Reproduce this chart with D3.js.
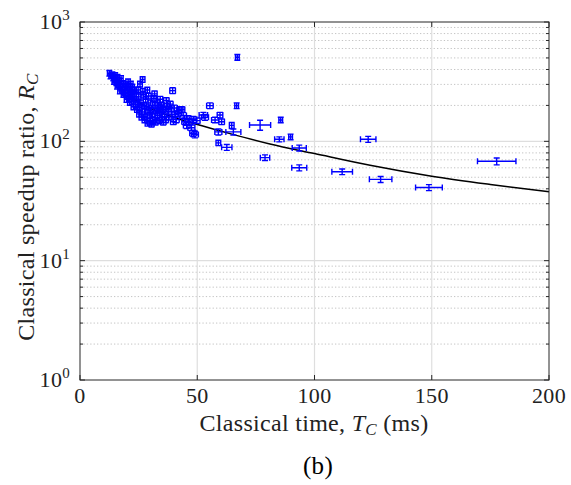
<!DOCTYPE html>
<html>
<head>
<meta charset="utf-8">
<script src="https://cdn.jsdelivr.net/npm/d3@7"></script>
<style>
  body { margin: 0; background: #fff; }
  text { font-family: "Liberation Serif", "DejaVu Serif", serif; fill: #222; letter-spacing: 0.3px; }
</style>
</head>
<body>
<svg id="chart" width="571" height="485"></svg>
<script>
// measured classical time (ms) and speedup ratio, with error bars
const tc = [12.5, 13.0, 13.8, 14.2, 14.8, 15.0, 15.5, 16.0, 16.3, 16.8,
  17.2, 17.5, 18.0, 18.3, 18.8, 19.2, 19.5, 20.0, 20.3, 20.8,
  21.0, 21.5, 21.7, 22.0, 22.5, 23.0, 23.3, 23.8, 24.0, 24.5,
  25.0, 25.5, 25.6, 26.0, 26.7, 26.5, 27.0, 27.3, 27.8, 28.0,
  28.4, 28.7, 29.0, 29.5, 29.9, 30.0, 30.5, 31.0, 31.0, 31.5,
  32.0, 32.5, 33.0, 33.0, 33.5, 34.0, 34.5, 35.0, 35.5, 36.0,
  36.5, 37.0, 37.7, 38.0, 39.0, 39.5, 39.8, 40.5, 41.0, 42.6,
  43.4, 34.8, 44.8, 45.5, 46.0, 48.3, 48.3, 49.0, 49.7, 52.6,
  53.3, 55.4, 57.6, 59.0, 59.0, 59.7, 60.4, 62.6, 64.7, 65.4,
  66.8, 67.1, 76.8, 78.9, 85.0, 85.6, 89.8, 93.5, 93.5, 111.8,
  122.9, 128.2, 148.8, 177.7,
  14.5, 15.8, 17.0, 18.5, 19.8, 21.2, 22.8, 24.3, 25.2, 26.2,
  27.5, 28.8, 30.5, 32.2, 33.8, 35.5, 20.5, 22.3, 24.8, 26.8,
  29.3, 31.8, 34.2, 36.8, 38.5, 40.2, 42.0, 44.0, 46.5, 47.5];
const rc = [372, 352, 362, 340, 328, 356, 310, 345, 298, 322,
  288, 336, 268, 305, 284, 255, 298, 240, 270, 290,
  230, 255, 302, 216, 246, 268, 226, 202, 250, 215,
  236, 192, 302, 210, 330, 176, 245, 200, 160, 225,
  195, 269, 180, 166, 146, 210, 190, 170, 150, 228,
  200, 180, 165, 210, 190, 175, 200, 160, 185, 170,
  152, 195, 188, 160, 177, 266, 146, 168, 152, 185,
  185, 202, 146, 136, 155, 153, 117, 114, 149, 166,
  159, 199, 151, 120, 97, 166, 146, 89, 136, 120,
  199, 506, 137, 73, 104, 151, 109, 88, 60, 55.6,
  104, 48, 41, 68,
  318, 290, 265, 248, 225, 212, 195, 185, 170, 160,
  152, 142, 140, 145, 150, 145, 315, 285, 270, 262,
  240, 250, 225, 220, 205, 190, 172, 165, 145, 130];
const tcErr = [0.8, 0.7, 0.8, 0.7, 0.8, 0.8, 0.8, 0.8, 0.8, 0.8,
  0.8, 0.9, 0.9, 0.9, 0.9, 0.9, 0.9, 0.9, 0.9, 0.9,
  0.9, 0.9, 0.9, 0.9, 0.9, 1.0, 1.0, 1.0, 1.0, 1.0,
  1.0, 1.0, 1.0, 1.0, 1.0, 1.0, 1.0, 1.0, 1.0, 1.0,
  1.0, 1.0, 1.0, 1.0, 1.4, 1.0, 1.0, 1.1, 1.1, 1.1,
  1.1, 1.1, 1.1, 1.1, 1.1, 1.1, 1.1, 1.1, 1.2, 1.2,
  1.2, 1.2, 1.2, 1.2, 1.2, 1.2, 1.2, 1.3, 1.3, 1.3,
  1.3, 1.1, 1.4, 1.4, 1.4, 1.5, 1.5, 1.5, 1.5, 1.8,
  1.5, 1.4, 1.5, 1.5, 1.0, 1.2, 1.2, 2.2, 1.0, 3.2,
  0.8, 0.8, 4.5, 2.0, 2.0, 0.8, 0.8, 3.0, 3.2, 4.4,
  3.3, 4.8, 5.7, 8.2,
  0.8, 0.8, 0.9, 0.9, 0.9, 0.9, 1.0, 1.0, 1.0, 1.0,
  1.0, 1.0, 1.1, 1.1, 1.1, 1.2, 0.9, 0.9, 1.0, 1.0,
  1.0, 1.1, 1.1, 1.2, 1.2, 1.3, 1.3, 1.4, 1.4, 1.5];
const rcErr = [20, 18, 20, 18, 18, 20, 17, 19, 16, 18,
  16, 19, 15, 17, 16, 14, 17, 13, 15, 16,
  13, 14, 17, 12, 14, 15, 12, 11, 14, 12,
  13, 11, 17, 12, 18, 10, 14, 11, 9, 12,
  11, 15, 10, 9, 9, 12, 11, 10, 9, 13,
  11, 10, 9, 12, 11, 10, 11, 9, 10, 10,
  9, 11, 10, 9, 10, 15, 8, 9, 9, 10,
  10, 11, 8, 8, 9, 9, 7, 7, 8, 9,
  9, 11, 8, 7, 5, 9, 8, 5, 8, 7,
  11, 28, 13, 4, 5, 8, 6, 5, 3.5, 3,
  6, 2.8, 2.4, 4.5,
  18, 16, 15, 14, 13, 12, 11, 10, 10, 9,
  9, 8, 8, 8, 9, 8, 18, 16, 15, 15,
  13, 14, 13, 12, 12, 11, 10, 9, 8, 7];

// fitted trend line
const fitT = [12.5, 18.5, 24.2, 31.3, 38.4, 49.7, 64, 81, 100, 123.7, 150, 175, 200];
const fitR = [366, 272, 218, 185, 163, 139, 116, 95, 79, 63, 51, 43.5, 37.8];

const xTicks = [0, 50, 100, 150, 200];
const yDecades = [1, 10, 100, 1000];
const yExps = ["0", "1", "2", "3"];

const mLeft = 80, mRight = 549, mTop = 22, mBottom = 380;
const svg = d3.select("#chart");

const x = d3.scaleLinear().domain([0, 200]).range([mLeft, mRight]);
const y = d3.scaleLog().domain([1, 1000]).range([mBottom, mTop]);

// minor log values 2..9 in each decade
let minor = [];
for (let d of [1, 10, 100]) {
    for (let k = 2; k <= 9; k++) minor.push(d * k);
}

const grid = svg.append("g");
grid.selectAll(".minor").data(minor).enter().append("line")
    .attr("x1", mLeft).attr("x2", mRight)
    .attr("y1", d => y(d)).attr("y2", d => y(d))
    .attr("stroke", "#c4c4c4").attr("stroke-width", 1)
    .attr("stroke-dasharray", "1.3,2.1");
grid.selectAll(".majy").data([10, 100]).enter().append("line")
    .attr("x1", mLeft).attr("x2", mRight)
    .attr("y1", d => y(d)).attr("y2", d => y(d))
    .attr("stroke", "#dedede").attr("stroke-width", 1.2);
grid.selectAll(".majx").data([50, 100, 150]).enter().append("line")
    .attr("y1", mTop).attr("y2", mBottom)
    .attr("x1", d => x(d)).attr("x2", d => x(d))
    .attr("stroke", "#dedede").attr("stroke-width", 1.2);

// fit curve
const line = d3.line()
    .x((d, i) => x(fitT[i]))
    .y((d, i) => y(fitR[i]))
    .curve(d3.curveMonotoneX);
svg.append("path")
    .attr("d", line(fitT))
    .attr("fill", "none")
    .attr("stroke", "#000")
    .attr("stroke-width", 1.5);

// error bars
const cap = 3;
const pts = svg.append("g")
    .attr("stroke", "#0000ff")
    .attr("stroke-width", 1.4)
    .attr("fill", "none");
tc.forEach((t, i) => {
    let cx = x(t), cy = y(rc[i]);
    let x0 = x(t - tcErr[i]), x1 = x(t + tcErr[i]);
    let y0 = y(rc[i] + rcErr[i]), y1 = y(rc[i] - rcErr[i]);
    let p = `M${x0},${cy}H${x1}`
        + `M${x0},${cy - cap}V${cy + cap}`
        + `M${x1},${cy - cap}V${cy + cap}`
        + `M${cx},${y0}V${y1}`
        + `M${cx - cap},${y0}H${cx + cap}`
        + `M${cx - cap},${y1}H${cx + cap}`;
    pts.append("path").attr("d", p);
});

// box and ticks
const axis = svg.append("g").attr("stroke", "#262626").attr("stroke-width", 1);
axis.append("rect")
    .attr("x", mLeft).attr("y", mTop)
    .attr("width", mRight - mLeft).attr("height", mBottom - mTop)
    .attr("fill", "none");
axis.selectAll(".xt").data(xTicks).enter().append("path")
    .attr("d", d => `M${x(d)},${mBottom}v-5M${x(d)},${mTop}v5`);
axis.selectAll(".yt").data(yDecades).enter().append("path")
    .attr("d", d => `M${mLeft},${y(d)}h5M${mRight},${y(d)}h-5`);
axis.selectAll(".ym").data(minor).enter().append("path")
    .attr("d", d => `M${mLeft},${y(d)}h3M${mRight},${y(d)}h-3`);

// tick labels
svg.selectAll(".xl").data(xTicks).enter().append("text")
    .attr("x", d => x(d)).attr("y", 403)
    .attr("text-anchor", "middle")
    .attr("font-size", 22)
    .text(d => d);

const yl = svg.selectAll(".yl").data(yDecades).enter().append("text")
    .attr("x", 70).attr("y", d => y(d) + 7)
    .attr("text-anchor", "end")
    .attr("font-size", 22);
yl.append("tspan").text("10");
yl.append("tspan").attr("dy", -9).attr("font-size", 15).text((d, i) => yExps[i]);

// axis titles
const xt = svg.append("text")
    .attr("x", 314).attr("y", 431)
    .attr("text-anchor", "middle")
    .attr("font-size", 24);
xt.append("tspan").text("Classical time, ");
xt.append("tspan").attr("font-style", "italic").text("T");
xt.append("tspan").attr("font-style", "italic").attr("font-size", 17).attr("dy", 4).text("C");
xt.append("tspan").attr("dy", -4).text(" (ms)");

const ytl = svg.append("text")
    .attr("transform", "translate(34,207) rotate(-90)")
    .attr("text-anchor", "middle")
    .attr("font-size", 24);
ytl.append("tspan").text("Classical speedup ratio, ");
ytl.append("tspan").attr("font-style", "italic").text("R");
ytl.append("tspan").attr("font-style", "italic").attr("font-size", 17).attr("dy", 4).text("C");

svg.append("text")
    .attr("x", 318).attr("y", 474)
    .attr("text-anchor", "middle")
    .attr("font-size", 25)
    .style("fill", "#000")
    .text("(b)");
</script>
</body>
</html>
